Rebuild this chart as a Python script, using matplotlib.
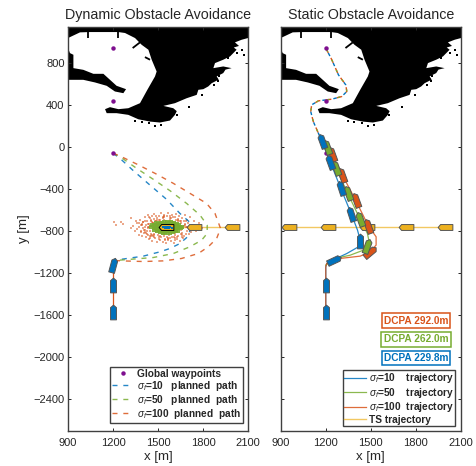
import matplotlib
matplotlib.use("Agg")
import matplotlib.pyplot as plt
from matplotlib.lines import Line2D
from matplotlib.markers import MarkerStyle
from matplotlib.path import Path
from matplotlib.transforms import Affine2D

plt.rcParams['font.family'] = ['Liberation Sans', 'DejaVu Sans']
plt.rcParams['mathtext.fontset'] = 'custom'
plt.rcParams['mathtext.rm'] = 'Liberation Sans'
plt.rcParams['mathtext.it'] = 'Liberation Sans:italic'
plt.rcParams['mathtext.bf'] = 'Liberation Sans:bold'

BLUE, GREEN, ORANGE, YELLOW, PURPLE = '#0072BD', '#77AC30', '#D95319', '#EDB120', '#7E0F8F'
INK = '#262626'

# ---- data ----
xticks = [900, 1200, 1500, 1800, 2100]
yticks = [800, 400, 0, -400, -800, -1200, -1600, -2000, -2400]

coast_x = [900, 2100, 2100, 2058, 2013, 2040, 2005, 2024, 1980, 1935, 1880, 1869, 1935, 1991, 1950, 1935, 1891, 1905, 1858, 1835, 1802, 1769, 1758,
           1691, 1613, 1536, 1602, 1625, 1613, 1580, 1513, 1447, 1369, 1302, 1224, 1158, 1147, 1180, 1236, 1302, 1380, 1429,
           1480, 1491, 1458, 1436, 1391, 1347, 1280, 1236, 1047, 980, 900]
coast_y = [1140, 1140, 1035, 1019, 994, 960, 945, 924, 860, 829, 797, 749, 765, 749, 735, 702, 670, 640, 606, 575, 549, 543, 495,
           463, 416, 390, 368, 340, 305, 251, 232, 241, 263, 305, 321, 321, 359, 378, 359, 368, 416, 543,
           670, 717, 829, 924, 971, 1035, 1083, 1092, 1092, 1089, 1035]
spit_x = [900, 913, 936, 936, 1002, 1069, 1136, 1180, 1224, 1287, 1269, 1213, 1158, 1080, 1002, 900]
spit_y = [940, 892, 876, 749, 733, 695, 695, 638, 581, 549, 511, 527, 581, 613, 638, 638]
stubs = [((1035, 1035), (1092, 1035)), ((1236, 1236), (1092, 1035)),
         ((1331, 1380), (940, 994)), ((1413, 1447), (854, 829))]
islet_x = [1347, 1391, 1442, 1480, 1520, 1709, 1624, 1791, 1824, 1873, 1902, 1909, 1969, 2058, 2076, 2024]
islet_y = [251, 235, 225, 200, 209, 375, 305, 495, 590, 587, 622, 670, 844, 924, 876, 892]

way_x = [1200, 1200, 1200]
way_y = [940, 440, -60]

plan_blue_x = [1200, 1246, 1335, 1446, 1557, 1646, 1708, 1717, 1702, 1646, 1580, 1513, 1402, 1246, 1225]
plan_blue_y = [-60, -108, -225, -362, -498, -632, -711, -775, -848, -918, -965, -997, -1038, -1070, -1075]
plan_green_x = [1200, 1246, 1357, 1469, 1580, 1691, 1780, 1828, 1828, 1791, 1713, 1602, 1469, 1246, 1225]
plan_green_y = [-60, -92, -203, -308, -416, -537, -648, -743, -822, -886, -949, -1013, -1051, -1076, -1078]
plan_orange_x = [1200, 1246, 1357, 1480, 1602, 1713, 1824, 1880, 1917, 1891, 1835, 1769, 1657, 1535, 1402, 1257, 1225]
plan_orange_y = [-60, -86, -162, -251, -346, -441, -537, -632, -775, -870, -949, -1013, -1060, -1083, -1089, -1083, -1080]

# ship marks, left panel
left_own_x = [1200, 1200, 1200]
left_own_y = [-1124, -1314, -1568]
left_own_hdg = [15, 0, 0]
left_ts_x = [1553, 1740, 1995]
left_ts_y = [-765, -765, -765]

cloud_o_x = [1206, 1220, 1250, 1269, 1317, 1322, 1335, 1345, 1352, 1360, 1362, 1370, 1375, 1380, 1384, 1390, 1392, 1398,
             1402, 1405, 1410, 1412, 1418, 1420, 1425, 1428, 1432, 1436, 1438, 1442, 1446, 1450, 1452, 1456, 1460, 1462,
             1466, 1470, 1472, 1478, 1480, 1484, 1488, 1490, 1495, 1498, 1502, 1505, 1510, 1512, 1518, 1520, 1525, 1530,
             1532, 1538, 1542, 1548, 1550, 1555, 1560, 1565, 1568, 1575, 1580, 1585, 1590, 1596, 1600, 1605, 1610, 1615,
             1620, 1625, 1630, 1636, 1640, 1645, 1650, 1655, 1660, 1665, 1670, 1676, 1680, 1686, 1690, 1695, 1700, 1708,
             1712, 1720, 1728, 1735, 1742, 1750, 1760, 1775, 1790, 1395, 1415, 1435, 1455, 1475, 1495, 1515, 1535, 1555,
             1575, 1595, 1615, 1635, 1655, 1675, 1440, 1470, 1500, 1530, 1560, 1590, 1620, 1650, 1680, 1430, 1465, 1505,
             1545, 1585, 1625, 1665, 1410, 1450, 1490, 1530, 1570, 1610, 1650, 1690, 1385, 1425,
             1400, 1422, 1444, 1468, 1492, 1516, 1540, 1564, 1588, 1612, 1636, 1660, 1684, 1706, 1408, 1433, 1458, 1483,
             1508, 1533, 1558, 1583, 1608, 1633, 1658, 1683, 1372, 1388, 1416, 1448, 1476, 1506, 1538, 1566, 1598, 1626,
             1656, 1688, 1716, 1440, 1474, 1508, 1544, 1578, 1614, 1646, 1460, 1500, 1540, 1580, 1620, 1660, 1444, 1488]
cloud_o_y = [-711, -745, -718, -732, -680, -775, -750, -800, -705, -780, -725, -835, -760, -690, -795, -740, -850, -770,
             -710, -815, -668, -785, -745, -860, -700, -825, -765, -650, -875, -730, -800, -690, -845, -755, -660, -890,
             -720, -825, -640, -775, -865, -705, -812, -675, -900, -745, -835, -655, -880, -715, -860, -630, -790, -905,
             -680, -850, -645, -885, -720, -915, -660, -870, -625, -840, -690, -895, -650, -855, -710, -910, -665, -835,
             -640, -875, -700, -850, -660, -890, -725, -830, -680, -865, -705, -845, -650, -825, -690, -800, -720, -780,
             -665, -810, -740, -770, -700, -795, -750, -725, -770, -735, -810, -775, -700, -835, -730, -690, -810, -700,
             -820, -715, -800, -740, -790, -755, -760, -770, -790, -760, -790, -745, -785, -760, -745, -840, -720, -810,
             -800, -730, -800, -775, -760, -825, -750, -830, -735, -815, -770, -760, -745, -795,
             -715, -820, -680, -850, -690, -845, -668, -880, -672, -868, -682, -852, -705, -825, -790, -735, -840, -700,
             -855, -665, -858, -675, -860, -690, -815, -735, -725, -810, -700, -862, -685, -872, -652, -878, -668, -858,
             -702, -760, -755, -670, -852, -690, -872, -660, -880, -700, -715, -810, -695, -870, -690, -838, -842, -655]
cloud_g_x = [1455, 1462, 1470, 1475, 1480, 1486, 1490, 1495, 1500, 1504, 1508, 1512, 1516, 1520, 1524, 1528, 1532, 1536,
             1540, 1544, 1548, 1552, 1556, 1560, 1564, 1568, 1572, 1576, 1580, 1584, 1588, 1592, 1596, 1600, 1604, 1608,
             1612, 1616, 1620, 1625, 1630, 1636, 1642, 1650, 1660, 1480, 1496, 1512, 1528, 1544, 1560, 1576, 1592, 1608,
             1624, 1640, 1500, 1520, 1540, 1560, 1580, 1600, 1620, 1488, 1508, 1528, 1548, 1568, 1588, 1608, 1628, 1470,
             1525, 1555, 1585, 1615, 1645, 1515, 1535, 1595]
cloud_g_y = [-765, -740, -790, -755, -775, -725, -800, -760, -735, -785, -750, -810, -720, -770, -795, -740, -815, -755,
             -715, -785, -735, -820, -760, -710, -800, -745, -790, -725, -815, -765, -715, -795, -740, -810, -755, -720,
             -785, -745, -800, -730, -770, -795, -745, -775, -760, -745, -780, -735, -775, -805, -730, -770, -760, -800,
             -760, -765, -750, -790, -770, -750, -790, -735, -775, -770, -760, -725, -800, -770, -745, -775, -760, -770,
             -755, -780, -745, -750, -760, -745, -760, -780]
cloud_b_x = [1530, 1538, 1545, 1552, 1558, 1565, 1572, 1580, 1590]
cloud_b_y = [-765, -758, -772, -762, -770, -760, -768, -762, -767]

# static panel
route_x = [1200, 1240, 1284, 1333, 1340, 1306, 1240, 1151, 1106, 1100, 1117, 1151, 1173]
route_y = [940, 829, 686, 590, 527, 479, 454, 438, 400, 336, 241, 130, 57]

traj_blue_x = [1200, 1200, 1206, 1255, 1340, 1418, 1431, 1411, 1371, 1300, 1229, 1173]
traj_blue_y = [-1616, -1140, -1108, -1070, -1013, -949, -895, -790, -641, -394, -140, 57]
traj_green_x = [1200, 1262, 1362, 1451, 1491, 1477, 1429, 1346, 1266, 1206, 1173]
traj_green_y = [-1124, -1060, -1029, -981, -917, -822, -689, -441, -197, 3, 57]
traj_orange_x = [1200, 1200, 1206, 1295, 1429, 1495, 1535, 1535, 1484, 1398, 1309, 1240, 1173]
traj_orange_y = [-1616, -1140, -1108, -1060, -1038, -997, -933, -854, -752, -505, -263, -67, 57]

own_blue_x = [1173, 1229, 1300, 1371, 1431, 1255, 1200, 1200]
own_blue_y = [57, -140, -394, -641, -895, -1070, -1308, -1568]
own_blue_hdg = [-20, -20, -18, -18, 0, 65, 0, 0]
own_green_x = [1206, 1266, 1346, 1429, 1477]
own_green_y = [3, -197, -441, -689, -940]
own_green_hdg = [-20, -20, -20, -20, 20]
own_orange_x = [1240, 1309, 1398, 1484, 1495]
own_orange_y = [-67, -263, -505, -752, -997]
own_orange_hdg = [-20, -20, -20, -20, 50]
ts_x = [955, 1213, 1477, 1735, 1995]
ts_y = [-762, -762, -762, -762, -762]

dcpa_labels = ['DCPA 292.0m', 'DCPA 262.0m', 'DCPA 229.8m']
dcpa_colors = [ORANGE, GREEN, BLUE]
left_labels = ['Global waypoints', r'$\mathit{\sigma_f}$=10   planned  path',
               r'$\mathit{\sigma_f}$=50   planned  path', r'$\mathit{\sigma_f}$=100  planned  path']
right_labels = [r'$\mathit{\sigma_f}$=10    trajectory', r'$\mathit{\sigma_f}$=50    trajectory',
                r'$\mathit{\sigma_f}$=100  trajectory', 'TS trajectory']

# ---- figure ----
W, H = 476, 466
fig = plt.figure(figsize=(W / 100, H / 100), dpi=100)
axL = fig.add_axes([68 / W, 1 - 431 / H, 180 / W, 404 / H])
axR = fig.add_axes([280.7 / W, 1 - 431 / H, 180.3 / W, 404 / H])

SHIP = Path([(-0.6, -1.5), (0.6, -1.5), (0.6, 1.0), (0, 1.5), (-0.6, 1.0), (-0.6, -1.5)], closed=True)


def ships(ax, xs, ys, hdgs, color, z=6):
    for x, y, h in zip(xs, ys, hdgs):
        m = MarkerStyle(SHIP, transform=Affine2D().rotate_deg(-h))
        ax.plot([x], [y], linestyle='none', marker=m, markersize=10.6, markerfacecolor=color,
                markeredgecolor='#555555', markeredgewidth=0.7, zorder=z)


for ax in (axL, axR):
    ax.set_xlim(900, 2100)
    ax.set_ylim(-2700, 1140)
    ax.set_xticks(xticks)
    ax.set_yticks(yticks)
    ax.tick_params(direction='in', top=True, right=True, length=2.2, width=0.7, color=INK,
                   labelsize=8, labelcolor=INK, pad=2.5)
    ax.tick_params(axis='x', pad=5)
    for s in ax.spines.values():
        s.set_color('#404040')
        s.set_linewidth(1.0)
    ax.fill(coast_x, coast_y, color='black', lw=0, zorder=1)
    ax.fill(spit_x, spit_y, color='black', lw=0, zorder=1)
    for sx, sy in stubs:
        ax.plot(sx, sy, color='black', lw=1.3, zorder=1, solid_capstyle='butt')
    ax.plot(islet_x, islet_y, 's', color='black', ms=1.8, mew=0, zorder=1)
    ax.set_xlabel('x [m]', fontsize=9.5, color=INK, labelpad=2.5)

axR.set_yticklabels([])
axL.set_ylabel('y [m]', fontsize=9.5, color=INK, labelpad=2)
axL.set_title('Dynamic Obstacle Avoidance', fontsize=10.3, color=INK, pad=5.5)
axR.set_title('Static Obstacle Avoidance', fontsize=10.3, color=INK, pad=5.5)

# clipped heading at the very top of the figure
fig.text(90 / W, 1 + 4 / H, 'p', family='Liberation Serif', fontsize=13, color=INK, ha='center', va='baseline')
fig.text(157 / W, 1 + 4 / H, 'g', family='Liberation Serif', fontsize=13, color=INK, ha='center', va='baseline')

# left panel
axL.plot(left_ts_x, left_ts_y, color=YELLOW, lw=1, alpha=0.7, zorder=2)
axL.plot([left_own_x[2], left_own_x[0]], [left_own_y[2], left_own_y[0]], color=ORANGE, lw=0.9, zorder=2)
axL.plot(cloud_o_x, cloud_o_y, 's', color=ORANGE, ms=1.7, mew=0, alpha=0.5, zorder=3)
axL.plot(cloud_g_x, cloud_g_y, 's', color=GREEN, ms=2.8, mew=0, alpha=0.9, zorder=4)
dash = (0, (3.6, 4.2))
l1, = axL.plot(plan_blue_x, plan_blue_y, color=BLUE, lw=1.0, ls=dash, alpha=0.85, zorder=5)
l2, = axL.plot(plan_green_x, plan_green_y, color=GREEN, lw=1.0, ls=dash, alpha=0.85, zorder=5)
l3, = axL.plot(plan_orange_x, plan_orange_y, color=ORANGE, lw=1.0, ls=dash, alpha=0.85, zorder=5)
wp, = axL.plot(way_x, way_y, 'o', color=PURPLE, ms=3.2, mew=0, ls='none', zorder=7)
ships(axL, left_ts_x, left_ts_y, [-90, -90, -90], YELLOW)
axL.lines[-3].set_markeredgecolor('black')
axL.plot(cloud_b_x, cloud_b_y, 's', color=BLUE, ms=1.8, mew=0, zorder=7)
ships(axL, left_own_x, left_own_y, left_own_hdg, BLUE)

# right panel
axR.plot(ts_x, ts_y, color=YELLOW, lw=1, alpha=0.7, zorder=2)
r1, = axR.plot(traj_blue_x, traj_blue_y, color=BLUE, lw=0.9, alpha=0.85, zorder=3)
r2, = axR.plot(traj_green_x, traj_green_y, color=GREEN, lw=0.9, alpha=0.85, zorder=3)
r3, = axR.plot(traj_orange_x, traj_orange_y, color=ORANGE, lw=0.9, alpha=0.85, zorder=3)
axR.plot(route_x, route_y, color=ORANGE, lw=1.0, ls=(0, (4, 4)), zorder=3)
axR.plot(route_x, route_y, color=BLUE, lw=1.0, ls=(4, (2.5, 5.5)), zorder=3)
axR.plot(route_x, route_y, color=GREEN, lw=1.0, ls=(6.5, (1.5, 6.5)), zorder=3)
axR.plot(way_x, way_y, 'o', color=PURPLE, ms=3.2, mew=0, ls='none', zorder=5)
ships(axR, ts_x, ts_y, [-90] * 5, YELLOW)
ships(axR, own_orange_x, own_orange_y, own_orange_hdg, ORANGE, z=7)
ships(axR, own_green_x, own_green_y, own_green_hdg, GREEN, z=7)
ships(axR, own_blue_x, own_blue_y, own_blue_hdg, BLUE, z=7)

# DCPA boxes
for lab, col, cy in zip(dcpa_labels, dcpa_colors, [320.5, 339.5, 358]):
    fig.text(416 / W, 1 - cy / H, lab, color=col, fontsize=7.3, fontweight='bold', ha='center', va='center', zorder=20,
             bbox=dict(boxstyle='square,pad=0.22', fc='white', ec=col, lw=1.1))

# legends
legL = axL.legend([wp, l1, l2, l3], left_labels, loc='lower right', bbox_to_anchor=((243 - 68) / 180, 8 / 404),
                  borderaxespad=0, fancybox=False, framealpha=1, edgecolor='#404040',
                  prop=dict(size=7.3, weight='bold'), labelspacing=0.0, handlelength=2.1, handletextpad=0.35,
                  borderpad=0.2, labelcolor=INK)
legL.get_frame().set_linewidth(1.0)
legL.set_zorder(20)
hts = Line2D([], [], color=YELLOW, lw=1, alpha=0.7)
legR = axR.legend([r1, r2, r3, hts], right_labels, loc='lower right',
                  bbox_to_anchor=((455 - 280.7) / 180.3, 5 / 404), borderaxespad=0, fancybox=False, framealpha=1,
                  edgecolor='#404040', prop=dict(size=7.3, weight='bold'), labelspacing=0.05, handlelength=2.1,
                  handletextpad=0.35, borderpad=0.1, labelcolor=INK)
legR.get_frame().set_linewidth(1.0)
legR.set_zorder(20)

fig.savefig('out.png', dpi=100)
